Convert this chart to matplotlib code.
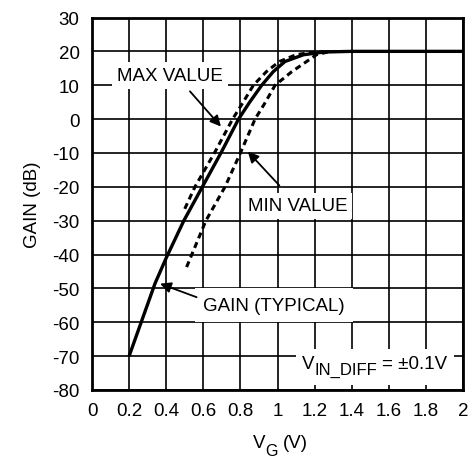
import matplotlib
matplotlib.use("Agg")
import matplotlib.pyplot as plt
from matplotlib.patches import Rectangle

plt.rcParams['font.family'] = ['Liberation Sans', 'DejaVu Sans']
plt.rcParams['axes.unicode_minus'] = False

# Data
typ_x = [0.2, 0.34, 0.40, 0.495, 0.595, 0.695, 0.79, 0.85, 0.915, 0.977, 1.04, 1.14, 1.25, 1.4, 2.0]
typ_y = [-70, -48.5, -41, -30, -20, -10, 0, 5, 10, 14, 17, 19, 19.8, 20, 20]

max_x = [0.50, 0.555, 0.66, 0.758, 0.815, 0.87, 0.94, 1.01, 1.10, 1.18, 1.25]
max_y = [-26.5, -20, -10, 0, 5, 10, 14, 17, 19, 19.7, 19.9]

min_x = [0.51, 0.614, 0.717, 0.80, 0.879, 0.935, 0.987, 1.077, 1.157, 1.21, 1.27]
min_y = [-43.7, -30, -20, -10, 0, 5, 10, 14, 17, 19, 19.8]

x_ticks = [0, 0.2, 0.4, 0.6, 0.8, 1, 1.2, 1.4, 1.6, 1.8, 2]
x_tick_labels = ['0', '0.2', '0.4', '0.6', '0.8', '1', '1.2', '1.4', '1.6', '1.8', '2']
y_ticks = list(range(-80, 31, 10))

fig = plt.figure(figsize=(4.71, 4.64), dpi=100)
ax = fig.add_axes([92/471, 1-391/464, (463-92)/471, (391-18.5)/464])

ax.set_xlim(0, 2)
ax.set_ylim(-80, 30)
ax.set_xticks(x_ticks)
ax.set_xticklabels(x_tick_labels)
ax.set_yticks(y_ticks)
ax.tick_params(length=0, pad=9, labelsize=13.5)
ax.grid(True, color='black', lw=1.2)
ax.set_axisbelow(True)
for s in ax.spines.values():
    s.set_linewidth(2)
    s.set_zorder(6)

ax.plot(typ_x, typ_y, color='black', lw=2.4, solid_capstyle='butt', solid_joinstyle='round', zorder=3)
ax.plot(max_x, max_y, color='black', lw=2.2, dashes=(2.0, 1.4), zorder=3)
ax.plot(min_x, min_y, color='black', lw=2.2, dashes=(2.0, 1.4), zorder=3)

box = dict(boxstyle='square,pad=0.25', fc='white', ec='none')
fs = 13.5
ax.text(0.42, 12.9, 'MAX VALUE', ha='center', va='center', fontsize=fs, bbox=box, zorder=4)
ax.text(1.11, -25.6, 'MIN VALUE', ha='center', va='center', fontsize=fs, bbox=box, zorder=4)
ax.text(0.98, -54.9, 'GAIN (TYPICAL)', ha='center', va='center', fontsize=fs,
        bbox=dict(boxstyle='square,pad=0.45', fc='white', ec='none'), zorder=4)

# V_IN_DIFF label with white background
ax.add_patch(Rectangle((1.10, -78.4), 0.85, 10.6, fc='white', ec='none', zorder=4))
tV = ax.text(1.13, -73.6, 'V', ha='left', va='baseline', fontsize=fs, zorder=5)
ax.annotate('IN_DIFF', xy=(1, 0), xycoords=tV, xytext=(0, -3.5), textcoords='offset points',
            ha='left', va='bottom', fontsize=12, zorder=5)
ax.text(1.912, -73.6, '= ±0.1V', ha='right', va='baseline', fontsize=fs, zorder=5)

arrow = dict(arrowstyle='-|>', color='black', lw=1.3, mutation_scale=16, shrinkA=0, shrinkB=0)
ax.annotate('', xy=(0.695, -2.2), xytext=(0.528, 8.2), arrowprops=arrow, zorder=5)
ax.annotate('', xy=(0.84, -9.6), xytext=(1.01, -19.6), arrowprops=arrow, zorder=5)
ax.annotate('', xy=(0.367, -48.6), xytext=(0.564, -52.6), arrowprops=arrow, zorder=5)

ax.set_ylabel('GAIN (dB)', fontsize=fs, labelpad=8)

# x label: V_G (V)
fig.text(253/471, 1-448/464, 'V', ha='left', va='baseline', fontsize=fs)
fig.text(265/471, 1-456/464, 'G', ha='left', va='baseline', fontsize=11.5)
fig.text(283/471, 1-448/464, '(V)', ha='left', va='baseline', fontsize=fs)

fig.savefig('out.png', dpi=100)
